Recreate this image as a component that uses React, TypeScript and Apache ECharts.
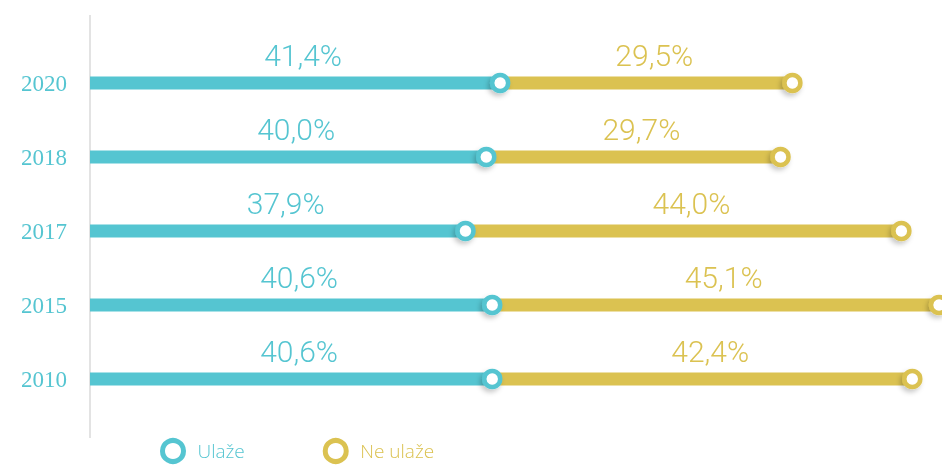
import React, { useEffect, useRef } from "react";
import * as echarts from "echarts";

const years = ["2010", "2015", "2017", "2018", "2020"];
const ulaze = [40.6, 40.6, 37.9, 40.0, 41.4];
const neUlaze = [42.4, 45.1, 44.0, 29.7, 29.5];

const CYAN = "#55C5D1";
const YELLOW = "#DBC251";

const fmt = (v: number) => v.toFixed(1).replace(".", ",") + "%";

export default function App() {
  const ref = useRef<HTMLDivElement>(null);
  useEffect(() => {
    if (!ref.current) return;
    const chart = echarts.init(ref.current, undefined, { renderer: "svg" });
    const ringStyle = (c: string) => ({
      color: "#ffffff",
      opacity: 1,
      borderColor: c,
      borderWidth: 4.5,
      shadowBlur: 5,
      shadowColor: "rgba(0,0,0,0.22)",
      shadowOffsetX: -2,
      shadowOffsetY: 3,
    });
    const labelStyle = (c: string) => ({
      show: true,
      position: "top" as const,
      distance: 6,
      offset: [8, 0],
      color: c,
      fontFamily: "Roboto",
      fontWeight: 300,
      fontSize: 30,
      formatter: (p: any) => fmt(p.value),
    });
    chart.setOption({
      animation: false,
      grid: { left: 90, right: 0, top: 46, bottom: 49, containLabel: false },
      xAxis: {
        type: "value",
        min: 0,
        max: 86,
        show: false,
      },
      yAxis: {
        type: "category",
        data: years,
        axisLine: { show: false },
        axisTick: { show: false },
        splitLine: { show: false },
        axisLabel: {
          color: CYAN,
          fontSize: 23,
          fontFamily: "Liberation Serif",
          margin: 23,
        },
      },
      legend: {
        data: [
          { name: "Ulaže", icon: "circle", itemStyle: { color: "#fff", borderColor: CYAN, borderWidth: 5 }, textStyle: { color: CYAN } },
          { name: "Ne ulaže", icon: "circle", itemStyle: { color: "#fff", borderColor: YELLOW, borderWidth: 5 }, textStyle: { color: YELLOW } },
        ],
        left: 160,
        top: 438,
        padding: 0,
        itemWidth: 21,
        itemHeight: 21,
        itemGap: 78,
        textStyle: { fontFamily: "Open Sans", fontWeight: 300, fontSize: 19, lineHeight: 19, padding: [0, 0, 0, 9] },
        selectedMode: false,
      },
      graphic: [
        {
          type: "line",
          shape: { x1: 90, y1: 15, x2: 90, y2: 438 },
          style: { stroke: "#e3e3e3", lineWidth: 2 },
          z: 0,
        },
      ],
      series: [
        {
          name: "Ulaže",
          type: "bar",
          stack: "a",
          barWidth: 13,
          data: ulaze,
          itemStyle: { color: CYAN },
          label: labelStyle(CYAN),
          z: 2,
        },
        {
          name: "Ne ulaže",
          type: "bar",
          stack: "a",
          barWidth: 13,
          data: neUlaze,
          itemStyle: { color: YELLOW },
          label: labelStyle(YELLOW),
          z: 2,
        },
        {
          name: "endNe",
          type: "scatter",
          symbol: "circle",
          symbolSize: 16,
          data: years.map((y, i) => [ulaze[i] + neUlaze[i], y]),
          itemStyle: ringStyle(YELLOW),
          z: 4,
        },
        {
          name: "endUl",
          type: "scatter",
          symbol: "circle",
          symbolSize: 16,
          data: years.map((y, i) => [ulaze[i], y]),
          itemStyle: ringStyle(CYAN),
          z: 5,
        },
      ],
    });
    return () => chart.dispose();
  }, []);
  return <div ref={ref} style={{ width: 942, height: 465, position: "fixed", left: 0, top: 0 }} />;
}
